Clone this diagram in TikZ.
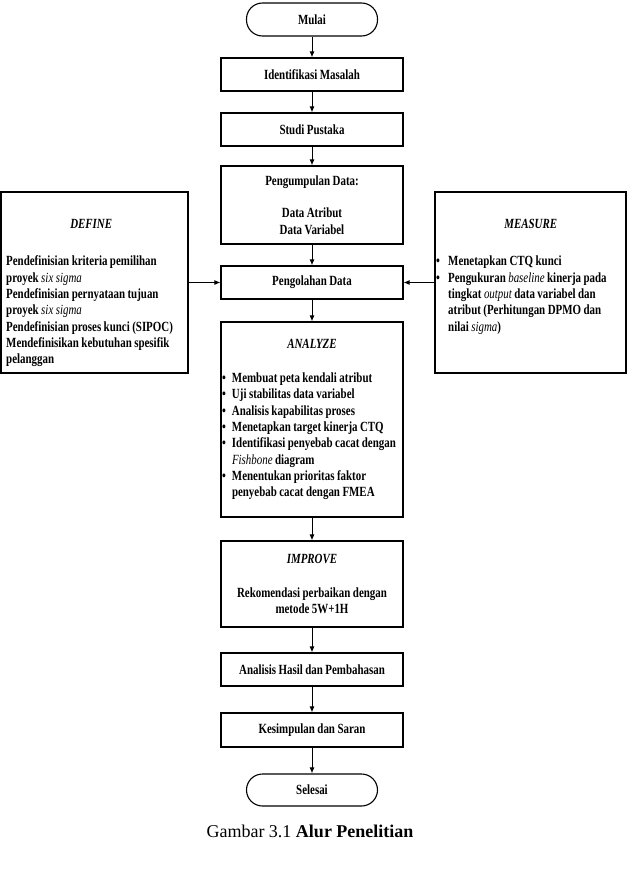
\documentclass[tikz,border=0pt]{standalone}
\usepackage{fontspec}
\setmainfont{Liberation Serif}
\newfontfamily\sempit{Liberation Serif}[FakeStretch=0.78,WordSpace=0.9]
\usepackage{tikz}
\usetikzlibrary{arrows.meta,calc}
\newcommand{\butir}[1]{\makebox[#1][l]{\textbullet}}
\newcommand{\mir}[1]{{\mdseries\itshape #1}}

\begin{document}
\begin{tikzpicture}[x=1pt,y=-1pt,
  kotak/.style={draw,line width=1.1pt,minimum width=182pt,minimum height=33pt,inner sep=1pt,align=center},
  ujung/.style={kotak,rounded corners=16pt,minimum width=131pt},
  isi/.style={inner sep=0pt,align=left},
  panah/.style={->,line width=1pt},
  >={Latex[length=6pt,width=5pt]},
  every node/.style={font=\sempit\bfseries\fontsize{14}{16.3}\selectfont}]
          %\draw[help lines] (0,0) grid[step=50] (627,878);
          \useasboundingbox (0,0) rectangle (627,878);
          \node[ujung] (mulai) at (312,19.5) {Mulai};
          \node[kotak] (identifikasi) at (312,74.5) {Identifikasi Masalah};
          \node[kotak] (studi) at (312,129.5) {Studi Pustaka};
          \node[kotak,minimum height=78pt] (kumpul) at (312,205) {Pengumpulan Data:\\[16.3pt]Data Atribut\\Data Variabel};
          \node[kotak] (olah) at (312,282.5) {Pengolahan Data};
          \node[kotak,minimum height=195pt,align=left] (analyze) at (312,419.5) {%
            \makebox[180pt]{\textit{ANALYZE}}\\[17.7pt]
            \butir{10pt}Membuat peta kendali atribut\\
            \butir{10pt}Uji stabilitas data variabel\\
            \butir{10pt}Analisis kapabilitas proses\\
            \butir{10pt}Menetapkan target kinerja CTQ\\
            \butir{10pt}Identifikasi penyebab cacat dengan\\
            \hspace*{10pt}\mir{Fishbone} diagram\\
            \butir{10pt}Menentukan prioritas faktor\\
            \hspace*{10pt}penyebab cacat dengan FMEA};
          \node[kotak,minimum height=86pt] (improve) at (312,584) {\textit{IMPROVE}\\[17pt]Rekomendasi perbaikan dengan\\metode 5W+1H};
          \node[kotak] (hasil) at (312,669.5) {Analisis Hasil dan Pembahasan};
          \node[kotak,minimum height=34pt] (simpul) at (312,730) {Kesimpulan dan Saran};
          \node[ujung,minimum height=32pt] (selesai) at (312,790) {Selesai};
          % kotak samping
          \node[draw,line width=1.1pt,minimum width=187pt,minimum height=181pt] (define) at (94.5,282.5) {};
          \node[isi,anchor=north west] (definetext) at (6,219.5) {%
            \makebox[170pt]{\textit{DEFINE}}\\[20.7pt]
            Pendefinisian kriteria pemilihan\\
            proyek \mir{six sigma}\\
            Pendefinisian pernyataan tujuan\\
            proyek \mir{six sigma}\\
            Pendefinisian proses kunci (SIPOC)\\
            Mendefinisikan kebutuhan spesifik\\
            pelanggan};
          \node[draw,line width=1.1pt,minimum width=191pt,minimum height=181pt] (measure) at (530.5,282.5) {};
          \node[isi,anchor=north west] (measuretext) at (436,219.5) {%
            \makebox[189pt]{\textit{MEASURE}}\\[20.7pt]
            \butir{12pt}Menetapkan CTQ kunci\\
            \butir{12pt}Pengukuran \mir{baseline} kinerja pada\\
            \hspace*{12pt}tingkat \mir{output} data variabel dan\\
            \hspace*{12pt}atribut (Perhitungan DPMO dan\\
            \hspace*{12pt}nilai \mir{sigma})};
          \node[font=\rmfamily\mdseries\fontsize{18}{21}\selectfont,anchor=base] (judul) at (310,837) {Gambar 3.1 \textbf{Alur Penelitian}};
          \foreach \a/\b in {mulai/identifikasi,identifikasi/studi,studi/kumpul,kumpul/olah,olah/analyze,analyze/improve,improve/hasil,hasil/simpul,simpul/selesai}
            \draw[panah] (\a) -- (\b);
          \draw[panah] (define) -- (olah);
          \draw[panah] (measure) -- (olah);
\end{tikzpicture}
\end{document}
